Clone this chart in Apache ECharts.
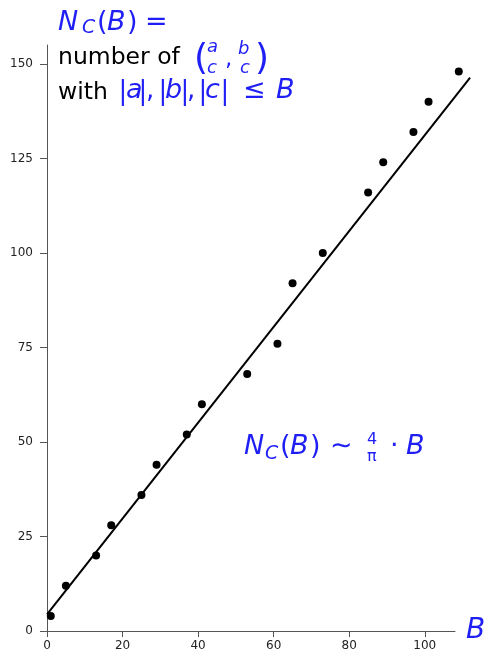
<!DOCTYPE html>
<html>
<head>
<meta charset="utf-8">
<script src="https://cdn.jsdelivr.net/npm/echarts@6/dist/echarts.min.js"></script>
<style>
  html, body { margin: 0; padding: 0; background: #fff; }
  #chart { width: 485px; height: 657px; }
</style>
</head>
<body>
<div id="chart"></div>
<script>
// Counts N_C(B) at selected heights B
const heightsB = [1, 5, 13, 17, 25, 29, 37, 41, 53, 61, 65, 73, 85, 89, 97, 101, 109];
const counts   = [4, 12, 20, 28, 36, 44, 52, 60, 68, 76, 92, 100, 116, 124, 132, 140, 148];

// Asymptotic trend line endpoints (slope about 4/pi)
const trendB = [0, 112];
const trendN = [4.4, 146.4];

// Axis ticks
const xTicks = [0, 20, 40, 60, 80, 100];
const yTicks = [0, 25, 50, 75, 100, 125, 150];

const BLUE = '#1f1ff5';
const FONT = '"DejaVu Sans", sans-serif';

// visible plot box; the trend line lives on a wider, hidden twin grid
const X_MAX = 108, X_MAX_TREND = 112;
const PLOT_LEFT = 47, PLOT_TOP = 45, PLOT_W = 408, PLOT_H = 586;

const chart = echarts.init(document.getElementById('chart'), null, { renderer: 'canvas' });

// text piece helper: x = left edge, base = baseline y
function piece(text, x, base, size, italic, color) {
  const y = base - 0.22 * size;
  return {
    type: 'text',
    left: x, top: y - size * 0.6,
    z: 10,
    style: {
      text: text,
      font: (italic ? 'italic ' : '') + size + 'px ' + FONT,
      fill: color || BLUE
    }
  };
}

const graphics = [
  // N_C(B) =
  piece('N', 58, 32, 27, true),
  piece('C', 82, 34, 19, true),
  piece('(', 97, 32, 27, false),
  piece('B', 107, 32, 27, true),
  piece(')', 127, 32, 27, false),
  piece('=', 145, 32, 27, false),
  // number of (a/c, b/c)
  piece('number of', 58, 65, 23.5, false, '#000'),
  piece('(', 194, 71, 36, false),
  piece('a', 207, 53, 18, true),
  piece('c', 207, 74, 18, true),
  piece(',', 225, 66, 23, false),
  piece('b', 238, 55, 18, true),
  piece('c', 240, 74, 18, true),
  piece(')', 255, 71, 36, false),
  // with |a|,|b|,|c| <= B
  piece('with', 58, 100, 23.5, false, '#000'),
  piece('|', 118.5, 101, 26, false),
  piece('a', 126, 100, 27, true),
  piece('|', 138.5, 101, 26, false),
  piece(',', 146, 100, 26, false),
  piece('|', 158.5, 101, 26, false),
  piece('b', 165, 100, 27, true),
  piece('|', 180.5, 101, 26, false),
  piece(',', 187, 100, 26, false),
  piece('|', 198.5, 101, 26, false),
  piece('c', 205, 100, 27, true),
  piece('|', 220.5, 101, 26, false),
  piece('\u2264', 243, 100, 27, false),
  piece('B', 276, 100, 27, true),
  // N_C(B) ~ 4/pi * B
  piece('N', 244, 456, 27, true),
  piece('C', 265, 460, 19, true),
  piece('(', 280, 456, 27, false),
  piece('B', 290, 456, 27, true),
  piece(')', 310, 456, 27, false),
  piece('\u223C', 330, 456, 27, false),
  piece('4', 367, 445, 16, false),
  piece('\u03C0', 367, 462, 16, false),
  piece('\u00B7', 390, 456, 27, false),
  piece('B', 406, 456, 27, true)
];

chart.setOption({
  animation: false,
  backgroundColor: '#fff',
  grid: [
    { left: PLOT_LEFT, top: PLOT_TOP, width: PLOT_W, height: PLOT_H, containLabel: false, outerBoundsMode: 'none' },
    { left: PLOT_LEFT, top: PLOT_TOP, width: PLOT_W * X_MAX_TREND / X_MAX, height: PLOT_H, containLabel: false, outerBoundsMode: 'none' }
  ],
  xAxis: [
    {
      type: 'value',
      gridIndex: 0,
      min: 0, max: X_MAX,
      axisLine: { lineStyle: { color: '#555', width: 1 } },
      axisTick: { show: true, length: 6, lineStyle: { color: '#555' }, customValues: xTicks },
      axisLabel: { color: '#222', fontSize: 12, fontFamily: FONT, margin: 9, customValues: xTicks },
      splitLine: { show: false },
      name: 'B',
      nameLocation: 'end',
      nameGap: 11,
      nameTextStyle: { color: BLUE, fontSize: 28, fontStyle: 'italic', fontFamily: FONT, verticalAlign: 'middle', align: 'left', padding: [7, 0, 0, 0] }
    },
    {
      type: 'value',
      gridIndex: 1,
      min: 0, max: X_MAX_TREND,
      show: false
    }
  ],
  yAxis: [
    {
      type: 'value',
      gridIndex: 0,
      min: 0, max: 155,
      axisLine: { show: true, lineStyle: { color: '#555', width: 1 } },
      axisTick: { show: true, length: 7, lineStyle: { color: '#555' }, customValues: yTicks },
      axisLabel: { color: '#222', fontSize: 12, fontFamily: FONT, margin: 14, customValues: yTicks },
      splitLine: { show: false }
    },
    {
      type: 'value',
      gridIndex: 1,
      min: 0, max: 155,
      show: false
    }
  ],
  series: [
    {
      type: 'line',
      xAxisIndex: 1,
      yAxisIndex: 1,
      data: trendB.map((b, i) => [b, trendN[i]]),
      symbol: 'none',
      clip: false,
      lineStyle: { color: '#000', width: 2 },
      z: 2
    },
    {
      type: 'scatter',
      xAxisIndex: 0,
      yAxisIndex: 0,
      data: heightsB.map((b, i) => [b, counts[i]]),
      symbolSize: 8,
      clip: false,
      itemStyle: { color: '#000', opacity: 1 },
      z: 3
    }
  ],
  graphic: graphics
});
</script>
</body>
</html>
